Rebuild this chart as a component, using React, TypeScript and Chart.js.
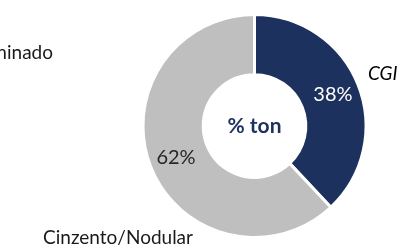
import React, { useEffect, useRef } from "react";
import { Chart, registerables } from "chart.js";

Chart.register(...registerables);

const categories = ["CGI", "Cinzento/Nodular", "Laminado"];
const shares = [38, 62, 0];
const valueLabels = ["38%", "62%", ""];
const centerText = "% ton";

const NAVY = "#1D315E";
const GRAY = "#BFBFBF";
const FONT = "Lato, 'Open Sans', sans-serif";

const labelPlugin = {
  id: "donutLabels",
  afterDatasetsDraw(chart: any) {
    const ctx = chart.ctx;
    const meta = chart.getDatasetMeta(0);
    const arcs = meta.data;
    if (!arcs.length) return;
    const a0 = arcs[0] as any;
    const cx = a0.x;
    const cy = a0.y;
    ctx.save();
    // value labels inside ring
    arcs.forEach((arc: any, i: number) => {
      const txt = valueLabels[i];
      if (!txt) return;
      const mid = (arc.startAngle + arc.endAngle) / 2;
      const r = arc.innerRadius + (arc.outerRadius - arc.innerRadius) * 0.55;
      ctx.font = `20px ${FONT}`;
      ctx.fillStyle = i === 0 ? "#FFFFFF" : "#262626";
      ctx.textAlign = "center";
      ctx.textBaseline = "middle";
      ctx.fillText(txt, cx + Math.cos(mid) * r, cy + Math.sin(mid) * r);
    });
    // center text
    ctx.font = `bold 21px ${FONT}`;
    ctx.fillStyle = NAVY;
    ctx.textAlign = "center";
    ctx.textBaseline = "middle";
    ctx.fillText(centerText, cx, cy);
    // category labels outside
    ctx.fillStyle = "#000000";
    ctx.textBaseline = "middle";
    ctx.font = `italic 19px ${FONT}`;
    ctx.textAlign = "left";
    ctx.fillText(categories[0], cx + 113.5, cy - 52.5);
    ctx.font = `19px ${FONT}`;
    ctx.fillStyle = "#1A1A1A";
    ctx.textAlign = "center";
    ctx.fillText(categories[1], cx - 136.5, cy + 112);
    ctx.textAlign = "right";
    ctx.fillText(categories[2], cx - 201.5, cy - 73);
    ctx.restore();
  },
};

export default function App() {
  const ref = useRef<HTMLCanvasElement>(null);
  useEffect(() => {
    if (!ref.current) return;
    const chart = new Chart(ref.current, {
      type: "doughnut",
      data: {
        labels: categories,
        datasets: [
          {
            data: shares,
            backgroundColor: [NAVY, GRAY, "#A5A5A5"],
            borderColor: "#FFFFFF",
            borderWidth: 3,
          },
        ],
      },
      options: {
        animation: false,
        responsive: false,
        cutout: "46%",
        layout: { padding: { top: 13, bottom: 7, left: 141.5, right: 33.5 } },
        plugins: {
          legend: { display: false },
          tooltip: { enabled: false },
        },
      },
      plugins: [labelPlugin],
    });
    return () => chart.destroy();
  }, []);
  return (
    <div style={{ position: "absolute", left: 0, top: 0, width: 401, height: 246, background: "#fff" }}>
      <canvas ref={ref} width={401} height={246} style={{ width: 401, height: 246, display: "block" }} />
    </div>
  );
}
